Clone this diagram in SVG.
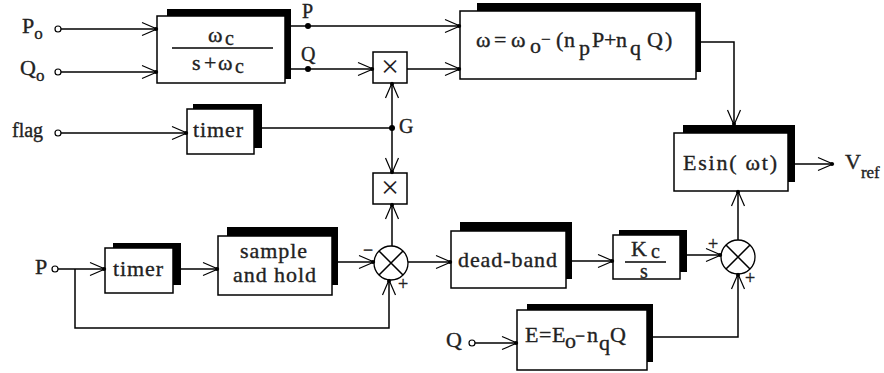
<svg xmlns="http://www.w3.org/2000/svg" width="884" height="373" viewBox="0 0 884 373" font-family="Liberation Serif, Times New Roman, serif">
<style>
.t{font-family:'Liberation Serif','Times New Roman',serif;font-size:22px;fill:#222;stroke:#222;stroke-width:0.35}
.s{font-size:17px}
.m{font-size:20px}
.ln{fill:none;stroke:#000;stroke-width:1.5}
.ar{fill:none;stroke:#000;stroke-width:1.5;marker-end:url(#ah)}
.sh{fill:#000}
.bx{fill:#fff;stroke:#000;stroke-width:1.5}
.term{fill:#fff;stroke:#000;stroke-width:1.2}
.dot{fill:#000}
</style>
<defs>
<marker id="ah" markerUnits="userSpaceOnUse" markerWidth="20" markerHeight="18" viewBox="-17 -9 20 18" refX="0" refY="0" orient="auto">
<path d="M-15,-6.5 L0,0 L-15,6.5" fill="none" stroke="#000" stroke-width="1.2"/>
<circle cx="-1" cy="0" r="2" fill="#000"/>
</marker>
</defs>

<g id="filter">
<rect class="sh" x="167" y="9" width="124" height="70"/>
<rect class="bx" x="157" y="16" width="128" height="67"/>
<line class="ln" x1="172" y1="48" x2="273" y2="48"/>
<text class="t" x="208" y="42">ω<tspan class="m" x="225" y="45">c</tspan></text>
<text class="t" x="192" y="70">s<tspan x="204">+</tspan><tspan x="218">ω</tspan><tspan class="m" x="235" y="73">c</tspan></text>
</g>

<g id="omega">
<rect class="sh" x="477" y="3" width="224" height="69"/>
<rect class="bx" x="460" y="11" width="236" height="68"/>
<text class="t" x="476" y="47">ω<tspan x="494">=</tspan><tspan x="511">ω</tspan><tspan x="530" y="53">o</tspan><tspan x="541" y="45" style="font-size:17px">−</tspan><tspan x="556" y="47">(</tspan><tspan x="564">n</tspan><tspan x="579" y="55">p</tspan><tspan x="592" y="47">P</tspan><tspan x="604">+</tspan><tspan x="616">n</tspan><tspan x="630" y="55">q</tspan><tspan x="647" y="47">Q</tspan><tspan x="665">)</tspan></text>
</g>

<g id="mult1">
<rect class="bx" x="373" y="52" width="34" height="31"/>
<text class="t" x="390" y="77" style="font-size:32px;stroke-width:0" text-anchor="middle">×</text>
</g>

<g id="mult2">
<rect class="bx" x="373" y="173" width="34" height="31"/>
<text class="t" x="390" y="198" style="font-size:32px;stroke-width:0" text-anchor="middle">×</text>
</g>

<g id="timer1">
<rect class="sh" x="193" y="104" width="69" height="44"/>
<rect class="bx" x="187" y="109" width="67" height="45"/>
<text class="t" x="193" y="137" textLength="50">timer</text>
</g>

<g id="timer2">
<rect class="sh" x="113" y="243" width="68" height="42"/>
<rect class="bx" x="105" y="248" width="68" height="45"/>
<text class="t" x="113" y="276" textLength="50">timer</text>
</g>

<g id="samplehold">
<rect class="sh" x="227" y="227" width="111" height="58"/>
<rect class="bx" x="218" y="236" width="114" height="59"/>
<text class="t" x="240" y="258" textLength="67">sample</text>
<text class="t" x="233" y="282" textLength="83">and hold</text>
</g>

<g id="sum1">
<circle cx="391" cy="263" r="17" fill="#fff" stroke="#000" stroke-width="1.3"/>
<path class="ln" d="M379,251 L403,275 M403,251 L379,275" stroke-width="1"/>
<text class="t" x="363" y="256" style="font-size:18px">−</text>
<text class="t" x="398" y="290" style="font-size:18px">+</text>
</g>

<g id="deadband">
<rect class="sh" x="460" y="222" width="112" height="57"/>
<rect class="bx" x="451" y="231" width="115" height="57"/>
<text class="t" x="458" y="267" textLength="99">dead-band</text>
</g>

<g id="kc">
<rect class="sh" x="619" y="230" width="68" height="42"/>
<rect class="bx" x="613" y="235" width="67" height="44"/>
<text class="t" x="631" y="256">K<tspan class="m" x="651" y="258">c</tspan></text>
<line class="ln" x1="625" y1="262" x2="666" y2="262"/>
<text class="t m" x="640" y="278">s</text>
</g>

<g id="sum2">
<circle cx="738" cy="257" r="17" fill="#fff" stroke="#000" stroke-width="1.3"/>
<path class="ln" d="M726,245 L750,269 M750,245 L726,269" stroke-width="1"/>
<text class="t" x="708" y="250" style="font-size:18px">+</text>
<text class="t" x="745" y="284" style="font-size:18px">+</text>
</g>

<g id="ebox">
<rect class="sh" x="527" y="304" width="126" height="58"/>
<rect class="bx" x="517" y="310" width="130" height="60"/>
<text class="t" x="525" y="342">E<tspan x="539">=</tspan><tspan x="552">E</tspan><tspan x="565" y="348">o</tspan><tspan x="575" y="342" style="font-size:18px">−</tspan><tspan x="587">n</tspan><tspan x="599" y="350">q</tspan><tspan x="610" y="342">Q</tspan></text>
</g>

<g id="esin">
<rect class="sh" x="683" y="125" width="112" height="57"/>
<rect class="bx" x="674" y="133" width="114" height="58"/>
<text class="t" x="683" y="170" textLength="94">Esin(  ωt)</text>
</g>

<g id="labels">
<text class="t" x="22" y="33">P<tspan class="s" dy="6">o</tspan></text>
<text class="t" x="20" y="75">Q<tspan class="s" dy="6">o</tspan></text>
<text class="t m" x="12" y="137">flag</text>
<text class="t" x="35" y="274">P</text>
<text class="t" x="446" y="347">Q</text>
<text class="t m" x="302" y="18">P</text>
<text class="t m" x="301" y="61">Q</text>
<text class="t m" x="399" y="133">G</text>
<text class="t" x="845" y="169">V<tspan class="s" dy="9">ref</tspan></text>
</g>

<g id="connectors">
<path class="ar" d="M61,29 H157"/>
<path class="ar" d="M61,72 H157"/>
<path class="ar" d="M291,26 H460"/>
<path class="ar" d="M291,69 H373"/>
<path class="ar" d="M407,69 H460"/>
<path class="ar" d="M701,42 H734 V125"/>
<path class="ar" d="M61,133 H187"/>
<path class="ln" d="M262,128 H392"/>
<path class="ar" d="M392,128 V83"/>
<path class="ar" d="M392,128 V173"/>
<path class="ar" d="M392,246 V204"/>
<path class="ar" d="M58,269 H105"/>
<path class="ar" d="M75,269 V328 H389 V280"/>
<path class="ar" d="M181,269 H218"/>
<path class="ar" d="M338,262 H374"/>
<path class="ar" d="M408,262 H451"/>
<path class="ar" d="M572,261 H613"/>
<path class="ar" d="M687,255 H721"/>
<path class="ar" d="M738,240 V191"/>
<path class="ar" d="M653,337 H738 V274"/>
<path class="ar" d="M475,343 H517"/>
<path class="ar" d="M795,164 H833"/>
<circle class="dot" cx="308" cy="26" r="3"/>
<circle class="dot" cx="308" cy="69" r="3"/>
<circle class="dot" cx="392" cy="128" r="3"/>
<circle class="term" cx="58" cy="29" r="3"/>
<circle class="term" cx="58" cy="72" r="3"/>
<circle class="term" cx="58" cy="133" r="3"/>
<circle class="term" cx="55" cy="269" r="3"/>
<circle class="term" cx="472" cy="343" r="3"/>
</g>
</svg>
